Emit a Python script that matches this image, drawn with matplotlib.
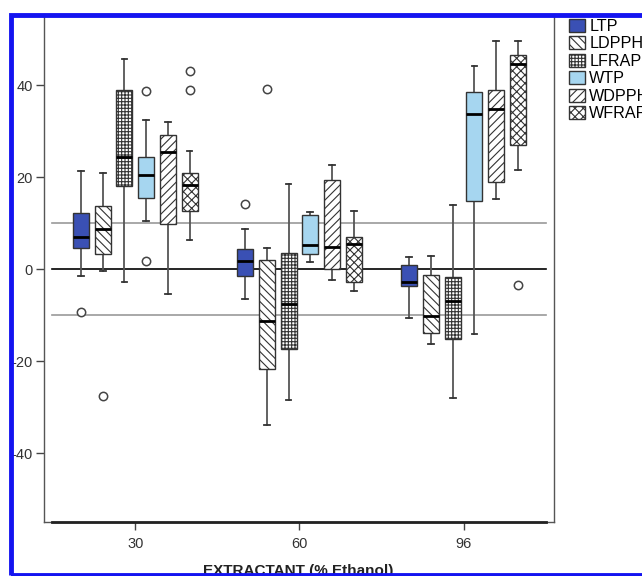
import matplotlib
matplotlib.use("Agg")
import matplotlib.pyplot as plt
from matplotlib.patches import Patch, Rectangle

plt.rcParams['font.family'] = ['Liberation Sans', 'DejaVu Sans']
plt.rcParams['axes.unicode_minus'] = False
plt.rcParams['hatch.linewidth'] = 0.8

# extractant groups (% ethanol)
extractants = ['30', '60', '96']
series = ['LTP', 'LDPPH', 'LFRAP', 'WTP', 'WDPPH', 'WFRAP']

# rows = series, columns = extractant 30 / 60 / 96
whis_lo = [[-1.4, -6.5, -10.6],
           [-0.5, -33.9, -16.2],
           [-2.8, -28.4, -28.0],
           [10.4, 1.6, -14.1],
           [-5.5, -2.3, 15.3],
           [6.3, -4.8, 21.6]]
q1 = [[4.5, -1.4, -3.7],
      [3.2, -21.7, -13.9],
      [18.0, -17.3, -15.3],
      [15.5, 3.2, 14.8],
      [9.9, 0.1, 18.9],
      [12.6, -2.7, 26.9]]
med = [[6.9, 1.7, -2.8],
       [8.7, -11.3, -10.1],
       [24.5, -7.5, -7.0],
       [20.4, 5.2, 33.7],
       [25.5, 4.9, 34.8],
       [18.2, 5.5, 44.6]]
q3 = [[12.3, 4.4, 0.8],
      [13.8, 1.9, -1.2],
      [38.9, 3.5, -1.8],
      [24.5, 11.8, 38.5],
      [29.1, 19.5, 39.0],
      [20.9, 7.1, 46.5]]
whis_hi = [[21.3, 8.7, 2.6],
           [21.0, 4.5, 2.8],
           [45.7, 18.6, 13.9],
           [32.5, 12.5, 44.2],
           [32.1, 22.7, 49.7],
           [25.8, 12.7, 49.7]]
outliers = [[[-9.3], [14.2], []],
            [[-27.7], [39.2], []],
            [[], [], []],
            [[38.7, 1.8], [], []],
            [[], [], []],
            [[43.0, 38.9], [], [-3.4]]]

colors = ['#3a50b4', 'white', 'white', '#a6d6f0', 'white', 'white']
hatches = [None, '\\\\\\\\', '+++++', None, '////', 'xxxx']

fig = plt.figure(figsize=(6.42, 5.76), dpi=100)
ax = fig.add_axes([44 / 642, 1 - 522 / 576, 510 / 642, 508 / 576])

step = 0.1323
width = 0.0975
for i, name in enumerate(series):
    stats = []
    pos = []
    for j in range(len(extractants)):
        stats.append(dict(whislo=whis_lo[i][j], q1=q1[i][j], med=med[i][j],
                          q3=q3[i][j], whishi=whis_hi[i][j], fliers=outliers[i][j]))
        pos.append(j + (i - 2.5) * step)
    bp = ax.bxp(stats, positions=pos, widths=width, capwidths=0.035,
                patch_artist=True, manage_ticks=False,
                boxprops=dict(edgecolor='#333333', linewidth=1),
                medianprops=dict(color='black', linewidth=2),
                whiskerprops=dict(color='#555555', linewidth=1.3),
                capprops=dict(color='#333333', linewidth=1.3),
                flierprops=dict(marker='o', markerfacecolor='white',
                                markeredgecolor='#444444', markersize=6,
                                markeredgewidth=1.1))
    for b in bp['boxes']:
        b.set_facecolor(colors[i])
        if hatches[i]:
            b.set_hatch(hatches[i])
        b.set_zorder(3)
    for m in bp['medians']:
        m.set_zorder(4)

# reference lines
ax.axhline(0, xmin=0.016, xmax=0.984, color='black', linewidth=1.2, zorder=1)
ax.axhline(10, xmin=0.016, xmax=0.984, color='#999999', linewidth=1.2, zorder=1)
ax.axhline(-10, xmin=0.016, xmax=0.984, color='#999999', linewidth=1.2, zorder=1)

ax.set_xlim(-0.556, 2.551)
ax.set_ylim(-55, 55.5)
ax.set_xticks(range(len(extractants)))
ax.set_xticklabels(extractants)
ax.set_yticks([-40, -20, 0, 20, 40])
ax.tick_params(axis='both', length=6, width=1, color='#444444',
               labelsize=10.5, labelcolor='#333333', pad=2)
ax.tick_params(axis='x', pad=5)
ax.spines['top'].set_visible(False)
for s in ['left', 'right', 'bottom']:
    ax.spines[s].set_color('#555555')
    ax.spines[s].set_linewidth(1)
ax.axhline(-55, xmin=0.016, xmax=0.984, color='#222222', linewidth=2, zorder=5, clip_on=False)

fig.text(298 / 642, 1 - 571 / 576, 'EXTRACTANT (% Ethanol)', ha='center',
         va='center', fontweight='bold', fontsize=11, color='#222222')

handles = [Patch(facecolor=colors[i], edgecolor='#333333', hatch=hatches[i])
           for i in range(len(series))]
fig.legend(handles, series, loc='upper left',
           bbox_to_anchor=(569 / 642, 1 - 19 / 576), frameon=False,
           fontsize=11.6, handlelength=1.0, handleheight=0.85,
           handletextpad=0.25, labelspacing=0.15, borderaxespad=0,
           borderpad=0)

# blue frame round the figure
fig.patches.append(Rectangle((11.5 / 642, 1.5 / 576), 660 / 642, 560 / 576,
                             transform=fig.transFigure, fill=False,
                             edgecolor='#1414f0', linewidth=3.5, zorder=10))

fig.savefig('out.png', dpi=100)
